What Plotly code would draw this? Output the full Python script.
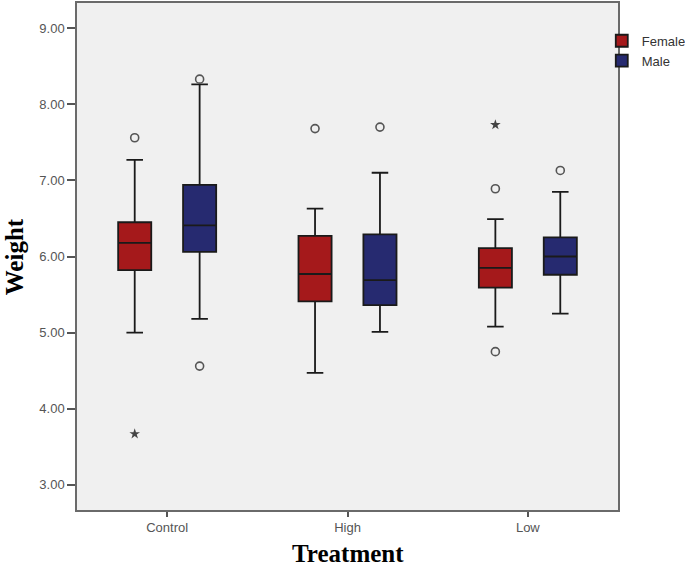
import plotly.graph_objects as go

# Summary stats (Weight by Treatment and Sex)
treatments = ["Control", "High", "Low"]

female_q1 = [5.82, 5.41, 5.59]
female_median = [6.18, 5.77, 5.85]
female_q3 = [6.45, 6.27, 6.11]
female_lower = [5.00, 4.47, 5.08]
female_upper = [7.27, 6.63, 6.49]

male_q1 = [6.06, 5.36, 5.76]
male_median = [6.41, 5.69, 6.00]
male_q3 = [6.94, 6.29, 6.25]
male_lower = [5.18, 5.01, 5.25]
male_upper = [8.26, 7.10, 6.85]

# outliers (circles) and extremes (stars)
female_out_x = ["Control", "High", "Low", "Low"]
female_out_y = [7.56, 7.68, 6.89, 4.75]
female_ext_x = ["Control", "Low"]
female_ext_y = [3.67, 7.73]
male_out_x = ["Control", "Control", "High", "Low"]
male_out_y = [8.33, 4.56, 7.70, 7.13]

RED = "#A5191B"
NAVY = "#262A70"

fig = go.Figure()

fig.add_trace(go.Box(
    name="Female", x=treatments, q1=female_q1, median=female_median, q3=female_q3,
    lowerfence=female_lower, upperfence=female_upper,
    fillcolor=RED, line=dict(color="#1a1a1a", width=1.8), whiskerwidth=0.5,
    offsetgroup="F", boxpoints=False))
fig.add_trace(go.Box(
    name="Male", x=treatments, q1=male_q1, median=male_median, q3=male_q3,
    lowerfence=male_lower, upperfence=male_upper,
    fillcolor=NAVY, line=dict(color="#1a1a1a", width=1.8), whiskerwidth=0.5,
    offsetgroup="M", boxpoints=False))

circle = dict(symbol="circle-open", size=8, color="#555555", line=dict(width=1.6))
star = dict(symbol="star", size=8, color="#444444")

fig.add_trace(go.Scatter(x=female_out_x, y=female_out_y, mode="markers", marker=circle,
                         offsetgroup="F", showlegend=False, hoverinfo="y"))
fig.add_trace(go.Scatter(x=female_ext_x, y=female_ext_y, mode="markers", marker=star,
                         offsetgroup="F", showlegend=False, hoverinfo="y"))
fig.add_trace(go.Scatter(x=male_out_x, y=male_out_y, mode="markers", marker=circle,
                         offsetgroup="M", showlegend=False, hoverinfo="y"))

axis_line = dict(showline=True, linecolor="#6a6a6a", linewidth=1.5, mirror=True,
                 ticks="outside", tickcolor="#555555", showgrid=False, zeroline=False,
                 automargin=False)

title_font = dict(family="Liberation Serif", size=25, color="black", weight="bold")

fig.update_layout(
    width=685, height=567,
    margin=dict(l=77, r=67, t=3, b=57, autoexpand=False),
    paper_bgcolor="white",
    plot_bgcolor="#F0F0F0",
    boxmode="group", boxgap=0.28, boxgroupgap=0.49,
    scattermode="group", scattergap=0.28,
    font=dict(family="Liberation Sans", size=13, color="#555555"),
    xaxis=dict(**axis_line, ticklen=5, tickwidth=2,
               categoryorder="array", categoryarray=treatments),
    yaxis=dict(**axis_line, ticklen=8, tickwidth=2, range=[2.67, 9.33], dtick=1,
               tickformat=".2f"),
    legend=dict(x=0.97, y=0.955, xanchor="left", yanchor="top",
                font=dict(family="Liberation Sans", size=13, color="#333333"),
                bgcolor="rgba(0,0,0,0)", tracegroupgap=0),
    annotations=[
        dict(text="Treatment", xref="paper", yref="paper", x=0.5, y=-0.085,
             xanchor="center", yanchor="middle", showarrow=False, font=title_font),
        dict(text="Weight", xref="paper", yref="paper", x=-0.115, y=0.5, textangle=-90,
             xanchor="center", yanchor="middle", showarrow=False, font=title_font),
    ],
)

# drop the page's default body margin so the figure sits at the window corner
fig.write_html("out.html", config={"displayModeBar": False},
               post_script="document.body.style.margin='0';")
